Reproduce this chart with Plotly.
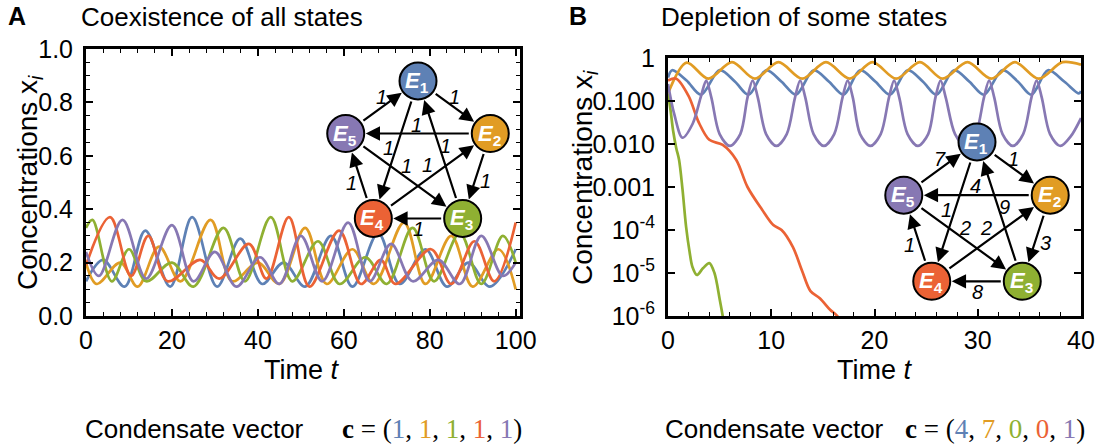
import math
import plotly.graph_objects as go

W, H = 1100, 448
FONT = "Liberation Sans"
SERIF = "Liberation Serif"

# species colours E1..E5
C_BLUE, C_ORANGE, C_GREEN, C_RED, C_PURPLE = "#5E81B5", "#E19C24", "#8FB032", "#EB6235", "#8778B3"
SPECIES_COLORS = [C_BLUE, C_ORANGE, C_GREEN, C_RED, C_PURPLE]

# ---------------- panel A: coexistence, concentrations vs time ----------------
a_blue_t = [0, 4, 9, 13.8, 19.6, 24.7, 30.5, 35.9, 41, 46, 51, 57, 62, 68, 73, 79, 84, 89, 94, 100]
a_blue_x = [0.13, 0.21, 0.11, 0.32, 0.11, 0.37, 0.11, 0.29, 0.12, 0.20, 0.11, 0.30, 0.11, 0.31, 0.12, 0.25, 0.11, 0.20, 0.11, 0.25]
a_orange_t = [0, 2.5, 8, 12, 17, 22, 29, 34, 40, 45, 51, 56, 62, 67, 74, 79, 85, 90, 96, 100]
a_orange_x = [0.20, 0.12, 0.20, 0.11, 0.26, 0.13, 0.36, 0.13, 0.20, 0.12, 0.33, 0.12, 0.25, 0.12, 0.35, 0.12, 0.30, 0.11, 0.25, 0.10]
a_green_t = [0, 1.5, 6, 10, 14, 20, 25, 32, 37, 43, 48, 54, 59, 65, 70, 76, 81, 87, 92, 97, 100]
a_green_x = [0.33, 0.36, 0.13, 0.25, 0.13, 0.20, 0.11, 0.33, 0.13, 0.37, 0.13, 0.28, 0.12, 0.22, 0.12, 0.33, 0.13, 0.31, 0.12, 0.30, 0.20]
a_red_t = [0, 5.6, 10.5, 14.5, 19, 26.6, 31, 37.9, 42, 47.2, 52, 58.9, 64, 68.6, 72, 80.3, 85, 90.4, 95, 100]
a_red_x = [0.19, 0.37, 0.15, 0.30, 0.13, 0.21, 0.14, 0.27, 0.14, 0.37, 0.11, 0.32, 0.12, 0.21, 0.12, 0.25, 0.12, 0.28, 0.13, 0.35]
a_purple_t = [0, 3, 8.5, 14, 20, 25, 30, 35, 40.5, 45, 50, 55, 61, 66, 71, 76, 82, 87, 92, 97, 100]
a_purple_x = [0.24, 0.15, 0.36, 0.14, 0.34, 0.13, 0.24, 0.11, 0.22, 0.12, 0.30, 0.13, 0.35, 0.13, 0.27, 0.13, 0.21, 0.12, 0.30, 0.15, 0.20]

# ---------------- panel B: depletion, log concentrations vs time ----------------
b_blue_t = [0, 0.4, 1.8, 3.2, 5.0, 6.5, 7.8, 9.5, 11.0, 12.4, 14.1, 15.6, 17.0, 18.6, 20.1, 21.5, 23.2, 24.7,
            26.0, 27.7, 29.2, 30.6, 32.4, 33.9, 35.2, 36.8, 38.4, 39.8, 40]
b_blue_x = [0.35, 0.52, 0.30, 0.14, 0.52, 0.28, 0.14, 0.52, 0.28, 0.14, 0.52, 0.28, 0.14, 0.52, 0.28, 0.14, 0.52, 0.28,
            0.14, 0.52, 0.28, 0.14, 0.52, 0.28, 0.14, 0.52, 0.28, 0.15, 0.17]
b_orange_t = [0, 1.8, 3.9, 6.2, 8.4, 10.7, 13.0, 15.3, 17.6, 19.8, 22.1, 24.4, 26.6, 29.0, 31.3, 33.6, 35.9, 38.2, 40]
b_orange_x = [0.15, 0.78, 0.33, 0.80, 0.33, 0.80, 0.33, 0.80, 0.33, 0.80, 0.33, 0.80, 0.33, 0.80, 0.33, 0.80, 0.33, 0.80, 0.70]
b_green_t = [0, 0.25, 0.5, 0.8, 1.07, 1.4, 1.75, 2.1, 2.36, 2.8, 3.4, 4.0, 4.5, 5.0, 5.3, 5.5]
b_green_x = [0.15, 0.06, 0.02, 0.008, 0.0043, 0.0009, 0.00012, 3e-5, 1.4e-5, 9e-6, 1.3e-5, 1.7e-5, 1.0e-5, 2.5e-6, 1e-6, 5e-7]
b_red_t = [0, 0.8, 2.0, 3.0, 4.0, 5.3, 6.6, 7.7, 9.1, 10.2, 11.0, 12.1, 13.0, 13.8, 14.7, 15.7, 16.4, 17]
b_red_x = [0.30, 0.33, 0.13, 0.031, 0.0125, 0.0095, 0.0043, 0.001, 0.0003, 0.00013, 0.0001, 4e-5, 1.1e-5, 3.8e-6, 2.6e-6,
           1.4e-6, 1e-6, 5e-7]
b_purple_t = [0, 0.6, 1.4, 2.4, 3.2, 3.7, 4.2, 5.0, 6.0, 7.0, 7.7, 8.2, 8.7, 9.5, 10.5, 11.5, 12.3, 12.8, 13.3, 14.1,
              15.1, 16.1, 16.9, 17.4, 17.9, 18.6, 19.6, 20.6, 21.4, 21.9, 22.4, 23.2, 24.2, 25.2, 25.9, 26.4, 26.9,
              27.8, 28.8, 29.8, 30.6, 31.1, 31.6, 32.4, 33.4, 34.4, 35.2, 35.7, 36.2, 37.0, 38.0, 39.0, 40]
b_purple_x = [0.25, 0.05, 0.014, 0.03, 0.13, 0.30, 0.12, 0.017, 0.009, 0.017, 0.12, 0.30, 0.12, 0.017, 0.009, 0.017,
              0.12, 0.30, 0.12, 0.017, 0.009, 0.017, 0.12, 0.30, 0.12, 0.017, 0.009, 0.017, 0.12, 0.30, 0.12, 0.017,
              0.009, 0.017, 0.12, 0.30, 0.12, 0.017, 0.009, 0.017, 0.12, 0.30, 0.12, 0.017, 0.009, 0.017, 0.12, 0.30,
              0.12, 0.017, 0.009, 0.015, 0.04]

# ---------------- reaction networks ----------------
node_names = ["1", "2", "3", "4", "5"]
edges = [(5, 1), (1, 2), (2, 5), (1, 4), (3, 1), (5, 3), (4, 2), (2, 3), (3, 4), (4, 5)]
weights_a = [1, 1, 1, 1, 1, 1, 1, 1, 1, 1]
weights_b = [7, 1, 4, 1, 9, 2, 2, 3, 8, 1]

# condensate vectors
cond_a = [1, 1, 1, 1, 1]
cond_b = [4, 7, 0, 0, 1]

# axis ticks
a_xticks = [0, 20, 40, 60, 80, 100]
a_yticks = [0.0, 0.2, 0.4, 0.6, 0.8, 1.0]
b_xticks = [0, 10, 20, 30, 40]
b_yticks = [1e-6, 1e-5, 1e-4, 1e-3, 1e-2, 1e-1, 1]
b_yticktext = ["10<sup>-6</sup>", "10<sup>-5</sup>", "10<sup>-4</sup>", "0.001", "0.010", "0.100", "1"]

fig = go.Figure(layout=dict(template="none"))

series_a = [(a_blue_t, a_blue_x), (a_orange_t, a_orange_x), (a_green_t, a_green_x),
            (a_red_t, a_red_x), (a_purple_t, a_purple_x)]
series_b = [(b_blue_t, b_blue_x), (b_orange_t, b_orange_x), (b_green_t, b_green_x),
            (b_red_t, b_red_x), (b_purple_t, b_purple_x)]

for (t, x), col in zip(series_a, SPECIES_COLORS):
    fig.add_trace(go.Scatter(x=t, y=x, mode="lines", xaxis="x", yaxis="y",
                             line=dict(color=col, width=2.7, shape="spline", smoothing=1.0),
                             showlegend=False, hoverinfo="skip"))
for (t, x), col in zip(series_b, SPECIES_COLORS):
    fig.add_trace(go.Scatter(x=t, y=x, mode="lines", xaxis="x2", yaxis="y2",
                             line=dict(color=col, width=2.7, shape="spline", smoothing=0.9),
                             showlegend=False, hoverinfo="skip"))

# pixel-space overlay used for the network insets and all free text
annotations = []


def pentagon(cx, cy, r):
    pts = {}
    for k in range(5):
        ang = math.radians(90 - 72 * k)
        pts[k + 1] = (cx + r * math.cos(ang), cy - r * math.sin(ang))
    return pts


# where each weight label sits: fraction along the edge, then pixel nudge
label_spot = [(0.5, 0, -10), (0.5, 0, -10), (0.5, -2, -9), (0.49, -8, 0), (0.53, 6, 0),
              (0.52, 0, -12), (0.46, 0, -14), (0.5, 9, 5), (0.5, 0, 11), (0.5, -8, 7)]

NODE_R = 18.5


def draw_network(cx, cy, r, weights):
    pos = pentagon(cx, cy, r)
    for (s, d), w, (f, dx, dy) in zip(edges, weights, label_spot):
        x0, y0 = pos[s]
        x1, y1 = pos[d]
        annotations.append(dict(x=x1, y=y1, ax=x0, ay=y0, xref="x3", yref="y3",
                                axref="x3", ayref="y3", text="", showarrow=True,
                                arrowhead=2, arrowsize=1.3, arrowwidth=2.2, arrowcolor="black",
                                standoff=NODE_R + 1.5, startstandoff=NODE_R + 1.5))
        lx = x0 + (x1 - x0) * f + dx
        ly = y0 + (y1 - y0) * f + dy
        annotations.append(dict(x=lx, y=ly, xref="x3", yref="y3", text=f"<i>{w}</i>",
                                showarrow=False, font=dict(family=FONT, size=20, color="black")))
    xs = [pos[k][0] for k in range(1, 6)]
    ys = [pos[k][1] for k in range(1, 6)]
    fig.add_trace(go.Scatter(x=xs, y=ys, mode="markers", xaxis="x3", yaxis="y3",
                             marker=dict(size=2 * NODE_R, color=SPECIES_COLORS,
                                         line=dict(color="black", width=2)),
                             showlegend=False, hoverinfo="skip"))
    for k, name in enumerate(node_names):
        annotations.append(dict(x=xs[k] - 1, y=ys[k] + 1, xref="x3", yref="y3",
                                text=f"<b><i>E</i><sub>{name}</sub></b>", showarrow=False,
                                font=dict(family=FONT, size=22, color="white")))


draw_network(418, 157, 76, weights_a)
draw_network(977, 219, 77, weights_b)


def txt(x, y, s, size=25, anchor="center", angle=0, family=FONT, bold=False):
    annotations.append(dict(x=x, y=y, xref="x3", yref="y3", text=f"<b>{s}</b>" if bold else s,
                            showarrow=False, xanchor=anchor, yanchor="middle", textangle=angle,
                            borderpad=0, font=dict(family=family, size=size, color="black")))


txt(17, 16, "A", bold=True)
txt(80, 17, "Coexistence of all states", size=26, anchor="left")
txt(578, 16, "B", bold=True)
txt(660, 17, "Depletion of some states", size=26, anchor="left")
txt(302, 370, "Time <i>t</i>", size=27)
txt(875, 370, "Time <i>t</i>", size=27)
txt(29, 183, "Concentrations x<sub><i>i</i></sub>", size=28, angle=-90)
txt(584, 178, "Concentrations x<sub><i>i</i></sub>", size=28, angle=-90)


def cond_text(vals):
    parts = [f"<span style='color:{c}'>{v}</span>" for v, c in zip(vals, SPECIES_COLORS)]
    return "<b>c</b> = (" + ", ".join(parts) + ")"


txt(84, 429, "Condensate vector", size=26, anchor="left")
txt(341, 429, cond_text(cond_a), size=27, anchor="left", family=SERIF)
txt(664, 429, "Condensate vector", size=26, anchor="left")
txt(904, 429, cond_text(cond_b), size=27, anchor="left", family=SERIF)

frame = dict(showline=True, linewidth=3, linecolor="black", mirror="allticks",
             ticks="inside", ticklen=7, tickwidth=1.5, tickcolor="black",
             showgrid=False, zeroline=False, automargin=False,
             tickfont=dict(family=FONT, size=25, color="black"))

y_lo = (H - 316) / H

fig.update_layout(
    width=W, height=H, autosize=False,
    margin=dict(l=0, r=0, t=0, b=0, pad=0, autoexpand=False),
    paper_bgcolor="white", plot_bgcolor="rgba(0,0,0,0)",
    font=dict(family=FONT, color="black"),
    xaxis=dict(domain=[86 / W, 520 / W], range=[0, 101], anchor="y", ticklabelstandoff=0,
               tickvals=a_xticks, minor=dict(dtick=4, tick0=0, ticklen=4, tickwidth=1.2,
                                             ticks="inside", tickcolor="black"), **frame),
    yaxis=dict(domain=[y_lo, (H - 49) / H], range=[0, 1], anchor="x", ticklabelstandoff=5,
               tickvals=a_yticks, tickformat=".1f",
               minor=dict(dtick=0.05, tick0=0, ticklen=4, tickwidth=1.2,
                          ticks="inside", tickcolor="black"), **frame),
    xaxis2=dict(domain=[668 / W, 1081 / W], range=[0, 40], anchor="y2", ticklabelstandoff=0,
                tickvals=b_xticks, minor=dict(dtick=2, tick0=0, ticklen=4, tickwidth=1.2,
                                              ticks="inside", tickcolor="black"), **frame),
    yaxis2=dict(domain=[y_lo, (H - 58) / H], type="log", range=[-6, 0], anchor="x2",
                ticklabelstandoff=5, tickvals=b_yticks, ticktext=b_yticktext, **frame),
    xaxis3=dict(domain=[0, 1], range=[0, W], visible=False, anchor="y3", fixedrange=True,
                automargin=False),
    yaxis3=dict(domain=[0, 1], range=[H, 0], visible=False, anchor="x3", fixedrange=True,
                automargin=False),
    annotations=annotations,
)

fig.write_html("out.html")
